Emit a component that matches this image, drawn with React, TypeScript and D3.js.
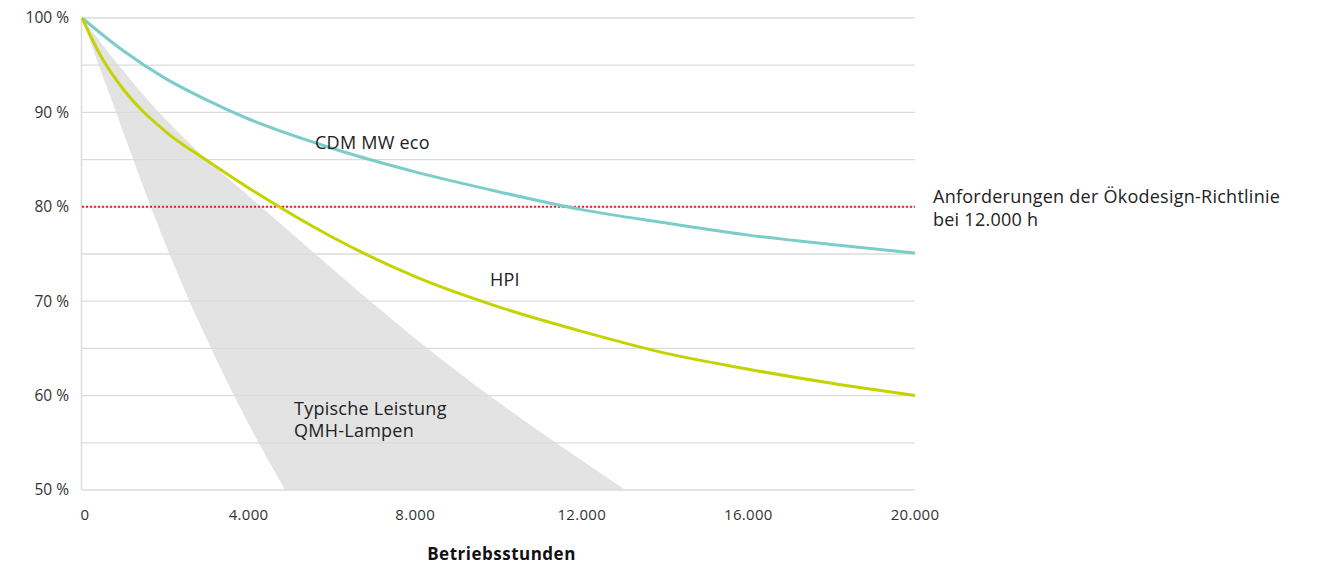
import React from "react";
import * as d3 from "d3";

// ---- Data ----
const hours = [0, 500, 1000, 2000, 3000, 4000, 6000, 8000, 10000, 12000, 14000, 16000, 18000, 20000];
const cdmValues = [100, 98.2, 96.5, 93.6, 91.3, 89.3, 86.2, 83.7, 81.6, 79.7, 78.3, 77.0, 76.0, 75.1];
const hpiValues = [100, 95.6, 92.4, 88.0, 84.9, 82.0, 76.8, 72.6, 69.4, 66.8, 64.5, 62.8, 61.3, 60.0];

// QMH band: for each output level, hours at the fast (left) and slow (right) edge
const bandLevels = [100, 95, 90, 85, 80, 75, 70, 65, 60, 55, 50];
const bandFastHours = [0, 400, 820, 1230, 1650, 2100, 2580, 3100, 3650, 4240, 4874];
const bandSlowHours = [0, 880, 1850, 3000, 4300, 5600, 6920, 8300, 9780, 11380, 13050];

const requirementLevel = 80;
const xTicks = [0, 4000, 8000, 12000, 16000, 20000];
const yTicks = [100, 90, 80, 70, 60, 50];
const gridLevels = [100, 95, 90, 85, 80, 75, 70, 65, 60, 55, 50];

const W = 1323;
const H = 567;
const FONT = "'Open Sans', 'Noto Sans', sans-serif";
const TEXT = "#222";

const fmtX = (v: number) => (v === 0 ? "0" : d3.format(",")(v).replace(/,/g, "."));

export default function App() {
  const x = d3.scaleLinear().domain([0, 20000]).range([82, 915]);
  const y = d3.scaleLinear().domain([50, 100]).range([490, 18]);

  const line = d3
    .line<[number, number]>()
    .x((d) => x(d[0]))
    .y((d) => y(d[1]))
    .curve(d3.curveMonotoneX);

  const cdmPts = hours.map((h, i) => [h, cdmValues[i]] as [number, number]);
  const hpiPts = hours.map((h, i) => [h, hpiValues[i]] as [number, number]);

  const band = d3
    .area<number>()
    .y((_, i) => y(bandLevels[i]))
    .x0((_, i) => x(bandFastHours[i]))
    .x1((_, i) => x(bandSlowHours[i]))
    .curve(d3.curveMonotoneY);

  const label = { fontSize: 18, fill: TEXT, letterSpacing: 0.25 } as const;

  return (
    <svg
      width={W}
      height={H}
      style={{ position: "absolute", left: 0, top: 0, background: "#fff" }}
      fontFamily={FONT}
    >
      <path d={band(bandLevels) || ""} fill="#e3e3e3" />
      {gridLevels.map((g) => (
        <line
          key={g}
          x1={x(0)}
          x2={x(20000)}
          y1={y(g)}
          y2={y(g)}
          stroke="#dcdcdc"
          strokeWidth={1.3}
        />
      ))}
      <line x1={x(0) - 0.5} x2={x(0) - 0.5} y1={y(100)} y2={y(50)} stroke="#dcdcdc" strokeWidth={1.5} />
      <line
        x1={x(0)}
        x2={x(20000)}
        y1={y(requirementLevel)}
        y2={y(requirementLevel)}
        stroke="#e3262b"
        strokeWidth={2}
        strokeDasharray="2 2"
      />
      <path d={line(cdmPts) || ""} fill="none" stroke="#7ccdc9" strokeWidth={3} />
      <path d={line(hpiPts) || ""} fill="none" stroke="#c4d300" strokeWidth={3} />

      {yTicks.map((t) => (
        <text key={t} x={69} y={y(t)} dy="0.35em" textAnchor="end" fontSize={15.5} fill="#333">
          {t} %
        </text>
      ))}
      {xTicks.map((t) => (
        <text key={t} x={x(t) + (t === 0 ? 3 : 0)} y={520} textAnchor="middle" fontSize={15} fill="#333" letterSpacing={0.3}>
          {fmtX(t)}
        </text>
      ))}
      <text x={(x(0) + x(20000)) / 2 + 3} y={560} textAnchor="middle" fontSize={17} fontWeight="bold" fill="#111" letterSpacing={0.5}>
        Betriebsstunden
      </text>

      <text x={315} y={149} {...label}>CDM MW eco</text>
      <text x={490} y={286} {...label}>HPI</text>
      <text x={294} y={415} {...label}>Typische Leistung</text>
      <text x={294} y={437} {...label}>QMH-Lampen</text>
      <text x={933} y={203} {...label}>Anforderungen der Ökodesign-Richtlinie</text>
      <text x={933} y={226} {...label}>bei 12.000 h</text>
    </svg>
  );
}
